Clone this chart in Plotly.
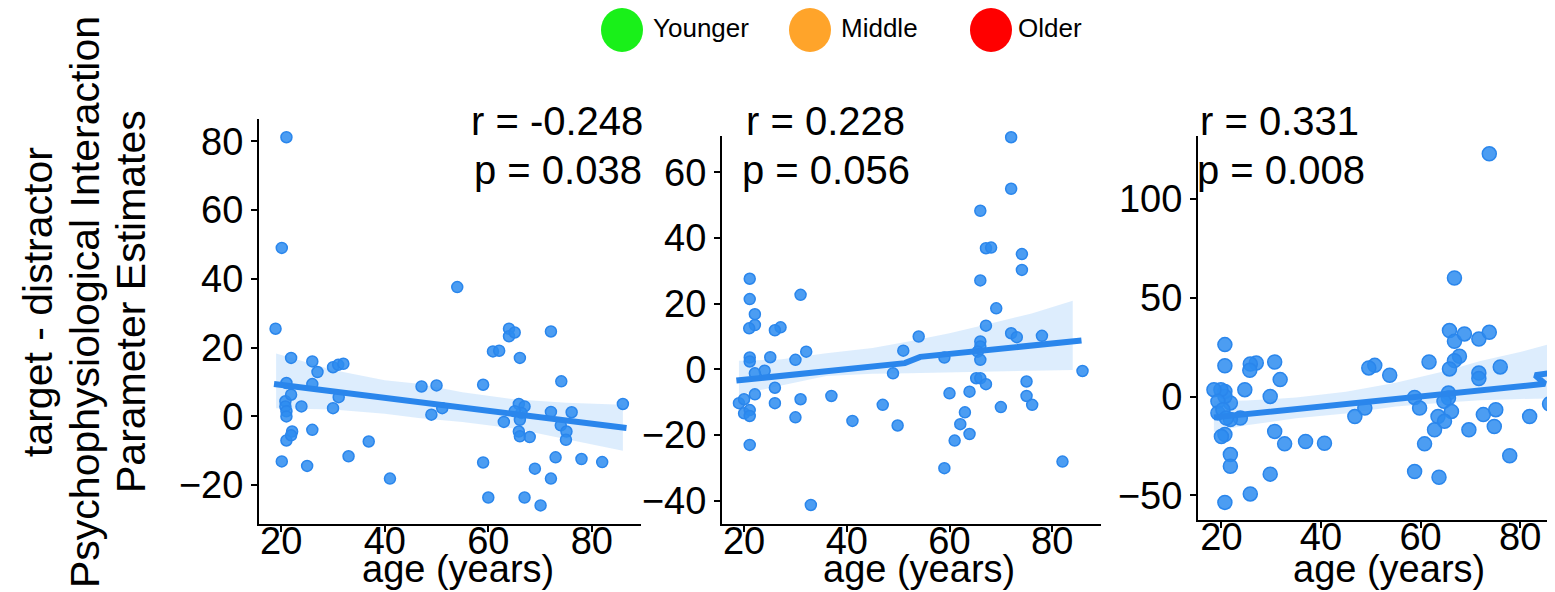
import plotly.graph_objects as go

W, H = 1555, 592

# ---------------- data ----------------
age1 = [21.0, 20.1, 18.9, 21.9, 21.0, 20.8, 20.8, 21.0, 21.0, 21.9, 21.0, 22.1, 21.9, 20.1,
        23.9, 25.0, 26.0, 27.0, 26.0, 26.0, 30.0, 31.0, 32.0, 31.1, 30.0, 33.0, 36.9, 41.0,
        54.0, 47.1, 50.0, 49.0, 51.1, 59.0, 59.0, 60.0, 60.9, 62.1, 64.0, 64.0, 65.1, 63.0,
        66.1, 65.9, 67.0, 66.4, 65.1, 66.1, 65.9, 66.1, 68.0, 67.0, 69.0, 70.1, 72.1, 72.1,
        73.0, 72.1, 74.1, 74.0, 75.1, 75.0, 76.1, 78.0, 82.0, 86.0]
val1 = [81.2, 49.0, 25.5, 17.0, 9.7, 4.4, 2.9, 1.5, 0.0, 6.3, -7.0, -4.4, -5.5, -13.1,
        2.9, -14.4, 16.0, 12.9, 9.4, -3.9, 14.3, 15.0, 15.3, 5.6, 2.4, -11.6, -7.3, -18.1,
        37.6, 8.7, 9.0, 0.5, 2.4, 9.2, -13.4, -23.6, 18.9, 19.1, 25.5, 23.3, 24.4, -1.6,
        17.0, 3.6, 2.9, 1.0, 1.5, -1.0, -4.4, -5.8, -6.0, -23.6, -15.2, -25.9, 24.7, 1.3,
        -11.9, -18.1, 10.2, -2.6, -4.4, -6.8, 1.2, -12.4, -13.3, 3.6]
fit1_x = [18.6, 86.7]
fit1_y = [9.4, -3.4]
band1_x = [19, 30, 40, 46.5, 55, 65, 75, 86]
band1_hi = [18.3, 13.5, 10.5, 9.5, 7.0, 5.0, 4.0, 3.4]
band1_lo = [2.4, 2.0, 0.8, -0.5, -1.6, -3.5, -6.5, -10.0]

age2 = [72.0, 72.0, 66.0, 67.1, 68.1, 74.1, 74.1, 66.0, 69.1, 67.1, 72.0, 73.1, 78.0, 66.0,
        66.0, 65.5, 66.0, 65.2, 66.0, 67.1, 75.0, 75.0, 76.1, 70.0, 82.0, 85.9, 59.0, 60.0,
        63.9, 63.0, 62.1, 61.0, 63.9, 59.0, 54.0, 51.0, 49.0, 47.0, 49.9, 41.1, 37.0, 33.0,
        31.0, 32.1, 30.0, 31.0, 30.0, 27.1, 26.0, 25.1, 24.0, 26.0, 26.0, 21.1, 21.1, 22.1,
        22.1, 21.0, 21.1, 21.1, 22.1, 22.1, 19.0, 20.0, 20.0, 21.1, 21.1, 21.1]
val2 = [70.7, 55.0, 48.3, 36.9, 37.1, 35.1, 30.3, 27.1, 18.6, 13.3, 11.0, 9.8, 10.2, 8.5,
        7.0, 5.4, 2.9, -2.7, -2.7, -4.5, -3.7, -8.1, -10.8, -11.5, -28.1, -0.5, 3.6, -7.3,
        -6.8, -13.1, -16.7, -21.7, -19.7, -30.1, 10.0, 5.7, -1.2, -10.8, -17.1, -15.7, -8.1, -41.3,
        22.7, 5.4, 2.9, -9.1, -14.6, 12.8, 11.9, 3.7, -0.4, -5.6, -10.3, 27.6, 21.4, 16.8,
        13.5, 12.5, 3.6, 2.4, -1.2, -7.6, -10.3, -9.1, -13.4, -12.4, -14.2, -23.0]
fit2_x = [18.5, 51.3, 54.3, 85.7]
fit2_y = [-3.4, 1.9, 3.8, 8.8]
band2_x = [19, 27, 36, 45, 52, 60, 68, 76, 84]
band2_hi = [2.6, 3.0, 4.9, 6.5, 8.5, 11.0, 14.0, 17.0, 20.9]
band2_lo = [-7.8, -5.0, -2.0, -1.3, -1.2, -0.9, -0.7, -0.4, -0.2]

age3 = [73.8, 66.8, 65.8, 66.8, 68.8, 71.7, 73.8, 67.8, 66.8, 65.8, 71.7, 71.7, 76.0, 61.7,
        65.6, 65.6, 64.7, 66.2, 63.5, 64.8, 62.8, 60.8, 58.8, 63.7, 58.8, 59.8, 69.7, 72.6,
        75.1, 74.8, 77.9, 81.9, 85.9, 53.8, 50.8, 49.6, 48.8, 46.8, 40.7, 36.9, 32.7, 30.7,
        31.8, 30.7, 29.8, 29.8, 25.8, 27.0, 25.8, 25.7, 24.7, 23.8, 21.8, 21.8, 21.8, 21.8,
        20.7, 20.7, 20.7, 20.7, 19.9, 20.7, 20.7, 18.5, 19.3, 19.3, 20.3, 21.0, 20.0]
val3 = [122.8, 60.0, 33.4, 28.0, 31.7, 29.1, 32.5, 20.4, 18.2, 14.0, 11.9, 9.1, 15.0, 17.5,
        1.8, -0.7, -2.4, -7.5, -10.1, -12.5, -16.8, -23.9, -37.9, -40.8, -0.4, -5.8, -16.8, -9.1,
        -6.6, -15.1, -29.9, -10.1, -3.7, 10.8, 15.8, 14.5, -5.8, -10.1, -23.6, -22.7, -23.9, -17.6,
        8.6, 17.5, 0.1, -39.2, -49.2, 17.0, 16.5, 13.3, 3.5, -10.8, -3.2, -11.6, -29.3, -35.2,
        26.3, 15.6, 2.6, 0.1, 3.5, -19.2, -53.5, 3.5, -2.4, -8.3, -6.6, -10.8, -20.2]
fit3_x = [18.5, 85.0, 83.0, 86.6]
fit3_y = [-10.5, 6.5, 10.8, 12.2]
band3_x = [18.5, 25, 35, 45, 55, 65, 72, 80, 88]
band3_hi = [-2.4, -2.0, -0.5, 2.5, 7.0, 13.0, 18.0, 22.5, 28.0]
band3_lo = [-17.8, -14.5, -11.0, -8.5, -5.0, -3.0, -1.8, -1.2, -0.8]

stats_r = ["r = -0.248", "r = 0.228", "r = 0.331"]
stats_p = ["p = 0.038", "p = 0.056", "p = 0.008"]
x_ticks = [20, 40, 60, 80]
y_ticks = [[-20, 0, 20, 40, 60, 80], [-40, -20, 0, 20, 40, 60], [-50, 0, 50, 100]]
legend_names = ["Younger", "Middle", "Older"]
legend_colors = ["#19f019", "#ffa42a", "#ff0000"]

# ---------------- layout geometry (pixels) ----------------
panels = [
    dict(x0=251, x1=633, top=111, bot=516, xr=[15.7, 89.5], yr=[-31.3, 86.5], ms=11,
         age=age1, val=val1, fx=fit1_x, fy=fit1_y, bx=band1_x, bh=band1_hi, bl=band1_lo,
         rpos=(549, 113), ppos=(550, 162)),
    dict(x0=714, x1=1093, top=127.6, bot=516, xr=[15.7, 89.5], yr=[-47.1, 71.2], ms=11,
         age=age2, val=val2, fx=fit2_x, fy=fit2_y, bx=band2_x, bh=band2_hi, bl=band2_lo,
         rpos=(817, 113), ppos=(818, 162)),
    dict(x0=1190, x1=1555, top=128, bot=512, xr=[15.3, 88.6], yr=[-62.4, 131.8], ms=14,
         age=age3, val=val3, fx=fit3_x, fy=fit3_y, bx=band3_x, bh=band3_hi, bl=band3_lo,
         rpos=(1271, 113), ppos=(1273, 162)),
]

FONT = "Liberation Sans, Arial, Helvetica, sans-serif"

fig = go.Figure()
annotations = []
shapes = []

for i, p in enumerate(panels, start=1):
    xa = "x" if i == 1 else f"x{i}"
    ya = "y" if i == 1 else f"y{i}"
    # confidence band
    fig.add_trace(go.Scatter(x=p["bx"] + p["bx"][::-1], y=p["bh"] + p["bl"][::-1],
                             fill="toself", fillcolor="rgba(45,140,240,0.16)",
                             line=dict(width=0), mode="lines", hoverinfo="skip",
                             showlegend=False, xaxis=xa, yaxis=ya))
    # points
    fig.add_trace(go.Scatter(x=p["age"], y=p["val"], mode="markers", cliponaxis=False,
                             marker=dict(size=p["ms"], color="rgba(45,140,240,0.85)",
                                         line=dict(width=1.5, color="#2a86ec")),
                             showlegend=False, xaxis=xa, yaxis=ya))
    # fit line
    fig.add_trace(go.Scatter(x=p["fx"], y=p["fy"], mode="lines",
                             line=dict(color="#2a86ec", width=6),
                             showlegend=False, xaxis=xa, yaxis=ya))

    axis_common = dict(showline=True, linecolor="black", linewidth=2, ticks="outside",
                       ticklen=6, tickwidth=2, tickcolor="black", showgrid=False,
                       zeroline=False, tickfont=dict(family=FONT, size=38, color="black"),
                       automargin=False)
    fig.layout[("xaxis" if i == 1 else f"xaxis{i}")] = dict(
        domain=[p["x0"] / W, p["x1"] / W], range=p["xr"], tickvals=x_ticks,
        anchor=ya, ticklabelstandoff=-24, **axis_common)
    fig.layout[("yaxis" if i == 1 else f"yaxis{i}")] = dict(
        domain=[1 - p["bot"] / H, 1 - p["top"] / H], range=p["yr"], tickvals=y_ticks[i - 1],
        anchor=xa, **axis_common)

    # x-axis title
    annotations.append(dict(text="age (years)", xref="paper", yref="paper",
                            x=((p["x0"] + p["x1"]) / 2 + 8) / W, y=1 - 561 / H,
                            xanchor="center", yanchor="middle", showarrow=False,
                            font=dict(family=FONT, size=38, color="black")))
    # stats
    for txt, (px, py) in ((stats_r[i - 1], p["rpos"]), (stats_p[i - 1], p["ppos"])):
        annotations.append(dict(text=txt, xref="paper", yref="paper",
                                x=px / W, y=1 - py / H, xanchor="center",
                                yanchor="middle", showarrow=False,
                                font=dict(family=FONT, size=40, color="black")))

# y-axis title (three lines)
for txt, cx in (("target - distractor", 30), ("Psychophysiological Interaction", 77),
                ("Parameter Estimates", 123)):
    annotations.append(dict(text=txt, xref="paper", yref="paper", x=cx / W, y=1 - 294 / H,
                            xanchor="center", yanchor="middle", textangle=-90,
                            showarrow=False, font=dict(family=FONT, size=41, color="black")))

# legend (drawn manually)
leg_cx = [614, 802, 983]
leg_tx = [643, 831, 1008]
for name, col, cx, tx in zip(legend_names, legend_colors, leg_cx, leg_tx):
    shapes.append(dict(type="circle", xref="paper", yref="paper",
                       x0=(cx - 21) / W, x1=(cx + 21) / W, y0=1 - 44 / H, y1=1 - 0 / H,
                       fillcolor=col, line=dict(width=0)))
    annotations.append(dict(text=name, xref="paper", yref="paper", x=tx / W, y=1 - 20 / H,
                            xanchor="left", yanchor="middle", showarrow=False,
                            font=dict(family=FONT, size=26, color="black")))

fig.update_layout(width=W, height=H, margin=dict(l=0, r=0, t=0, b=0, autoexpand=False),
                  plot_bgcolor="white", paper_bgcolor="white", showlegend=False,
                  annotations=annotations, shapes=shapes)

fig.write_html("out.html")
